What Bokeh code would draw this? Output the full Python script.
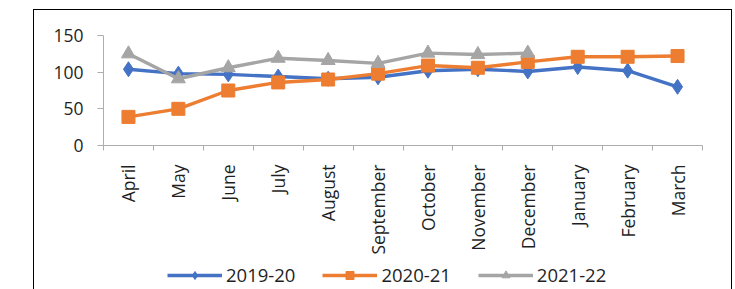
import math
from bokeh.plotting import figure
from bokeh.layouts import column
from bokeh.models import Range1d, FixedTicker, Legend, LegendItem
from bokeh.embed import file_html
from bokeh.resources import INLINE

months = ["April", "May", "June", "July", "August", "September", "October",
          "November", "December", "January", "February", "March"]
s2019 = [104, 98, 97, 94, 91, 93, 102, 104, 101, 107, 102, 80]
s2020 = [39, 50, 75, 86, 90, 98, 109, 106, 114, 121, 121, 122]
s2021 = [125, 91, 106, 119, 116, 112, 126, 124, 126]
y_ticks = [0, 50, 100, 150]
series_names = ["2019-20", "2020-21", "2021-22"]

FONT = "Open Sans"
TXT = "#1f1f1f"
AX = "#ADADAD"
W = 735
H1, H2 = 258, 31

def border_css(with_top):
    parts = ["linear-gradient(#000,#000) 33px %dpx / 1px 400px no-repeat" % (9 if with_top else 0),
             "linear-gradient(#000,#000) 731px %dpx / 1px 400px no-repeat" % (9 if with_top else 0)]
    if with_top:
        parts.append("linear-gradient(#000,#000) 33px 9px / 699px 1px no-repeat")
    return ", ".join(parts) + ", #fff"

# ---- main chart ----
p = figure(width=W, height=H1, x_range=Range1d(0, len(months)), y_range=Range1d(0, 150),
           output_backend="svg", toolbar_location=None,
           min_border_left=103, min_border_right=33, min_border_top=35, min_border_bottom=H1 - 145,
           styles={"background": border_css(True)})
p.outline_line_color = None
p.border_fill_color = None
p.background_fill_color = None
p.xgrid.visible = False
p.ygrid.visible = False

xc = [i + 0.5 for i in range(len(months))]
xa = p.xaxis[0]
xa.ticker = FixedTicker(ticks=xc, minor_ticks=list(range(len(months) + 1)))
xa.major_label_overrides = {x: m for x, m in zip(xc, months)}
xa.major_tick_out = 0
xa.major_tick_in = 0
xa.minor_tick_out = 5
xa.minor_tick_in = 0
xa.minor_tick_line_color = AX
xa.axis_line_color = AX
xa.major_label_orientation = math.pi / 2
xa.major_label_standoff = 14
xa.major_label_text_font = FONT
xa.major_label_text_font_size = "17.5px"
xa.major_label_text_color = TXT

ya = p.yaxis[0]
ya.ticker = FixedTicker(ticks=y_ticks, minor_ticks=[])
ya.major_tick_out = 6
ya.major_tick_in = 0
ya.major_tick_line_color = AX
ya.axis_line_color = AX
ya.major_label_standoff = 14
ya.major_label_text_font = FONT
ya.major_label_text_font_size = "17.5px"
ya.major_label_text_color = TXT

colors = ["#4472C4", "#ED7D31", "#A5A5A5"]
markers = ["diamond", "square", "triangle"]
sizes = [15, 13, 14]
data = [s2019, s2020, s2021]

for vals, c, mk, sz in zip(data, colors, markers, sizes):
    xs = xc[:len(vals)]
    p.line(xs, vals, line_color=c, line_width=3.4)
    p.scatter(xs, vals, marker=mk, size=sz, fill_color=c, line_color=c)

# ---- legend strip (same series, drawn off-range so only the legend shows) ----
q = figure(width=W, height=H2, x_range=Range1d(0, len(months)), y_range=Range1d(-2, -1),
           output_backend="svg", toolbar_location=None,
           x_axis_location=None, y_axis_location=None,
           min_border_left=0, min_border_right=0, min_border_top=0, min_border_bottom=0,
           styles={"background": border_css(False)})
q.outline_line_color = None
q.border_fill_color = None
q.background_fill_color = None
q.grid.visible = False

items = []
for name, vals, c, mk, sz in zip(series_names, data, colors, markers, sizes):
    xs = xc[:len(vals)]
    ln = q.line(xs, vals, line_color=c, line_width=3.4)
    sc = q.scatter(xs, vals, marker=mk, size=sz, fill_color=c, line_color=c)
    items.append(LegendItem(label=name, renderers=[ln, sc]))

legend = Legend(items=items, orientation="horizontal", location=(64, 2),
                border_line_color=None, background_fill_alpha=0,
                label_text_font=FONT, label_text_font_size="18.5px", label_text_color=TXT,
                glyph_width=55, glyph_height=20, label_height=20, label_standoff=4, spacing=27,
                padding=0, margin=0)
q.add_layout(legend, "center")

layout = column(p, q, spacing=0)
open("out.html", "w").write(file_html(layout, INLINE))
